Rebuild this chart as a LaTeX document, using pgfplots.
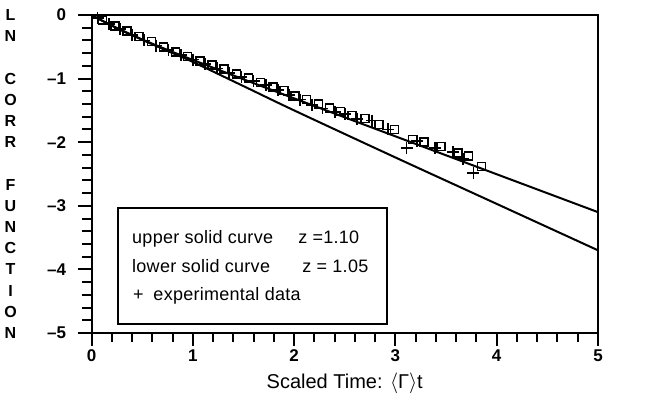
\documentclass[border=0pt]{standalone}
\usepackage{fontspec}
\setmainfont{Liberation Sans}
\newfontfamily\legfont[LetterSpace=1.5]{Liberation Sans}
\usepackage{pgfplots}
\pgfplotsset{compat=1.18}

\begin{document}
\begin{tikzpicture}
\begin{axis}[
  scale only axis, width=506.5pt, height=318pt,
  xmin=0, xmax=5, ymin=-5, ymax=0,
  axis line style={line width=2pt},
  tick align=outside, xtick pos=bottom, ytick pos=left,
  xtick={0,1,2,3,4,5}, ytick={-5,-4,-3,-2,-1,0},
  xticklabels={0,1,2,3,4,5},
  yticklabels={--5,--4,--3,--2,--1,0},
  minor x tick num=4, minor y tick num=4,
  major tick length=13pt, minor tick length=9pt,
  tick style={black, line width=2pt},
  ticklabel style={font=\fontsize{17}{19}\selectfont\bfseries},
  yticklabel style={xshift=-9pt},
  xlabel={Scaled Time: $\langle$Γ$\rangle$t},
  xlabel style={font=\fontsize{20}{22}\selectfont, at={(axis description cs:0.5,0)}, anchor=center, yshift=-50pt},
  clip=false,
]
  \coordinate (sw) at (rel axis cs:0,0);
  \coordinate (ne) at (rel axis cs:1,1);
  \coordinate (org) at (axis cs:0,0);

  % upper solid curve, z = 1.10
  \addplot[line width=2pt, smooth] coordinates {
    (0,0) (0.1,-0.086) (0.2,-0.166) (0.3,-0.242) (0.5,-0.384) (0.75,-0.549)
    (1,-0.706) (1.5,-1.011) (2,-1.311) (3,-1.908) (4,-2.504) (5,-3.100)};
  % lower solid curve, z = 1.05
  \addplot[line width=2pt, smooth] coordinates {
    (0,0) (0.1,-0.085) (0.2,-0.166) (0.3,-0.244) (0.5,-0.390) (0.75,-0.565)
    (1,-0.738) (1.5,-1.118) (2,-1.500) (3,-2.240) (4,-2.970) (5,-3.700)};

  % experimental data
  \addplot[only marks, mark=+, mark size=6pt, line width=1.8pt] coordinates {
    (0.06,-0.05) (0.17,-0.14) (0.28,-0.22) (0.40,-0.31) (0.52,-0.40) (0.64,-0.48)
    (0.76,-0.55) (0.88,-0.63) (1.00,-0.70) (1.12,-0.77) (1.24,-0.84) (1.36,-0.91)
    (1.48,-0.98) (1.60,-1.04) (1.72,-1.10) (1.84,-1.18) (1.95,-1.26) (2.06,-1.33)
    (2.18,-1.41) (2.28,-1.47) (2.40,-1.53) (2.50,-1.56) (2.62,-1.63) (2.77,-1.66)
    (2.93,-1.80) (3.11,-2.09) (3.21,-1.98) (3.39,-2.09) (3.57,-2.15) (3.67,-2.27)
    (3.77,-2.48)};
  \addplot[only marks, mark=square, mark size=4pt, line width=1.5pt] coordinates {
    (0.11,-0.08) (0.23,-0.17) (0.35,-0.25) (0.47,-0.34) (0.59,-0.42) (0.71,-0.50)
    (0.83,-0.58) (0.95,-0.65) (1.07,-0.72) (1.19,-0.79) (1.31,-0.85) (1.43,-0.93)
    (1.55,-0.99) (1.67,-1.06) (1.79,-1.13) (1.90,-1.19) (2.01,-1.27) (2.12,-1.33)
    (2.24,-1.40) (2.35,-1.46) (2.46,-1.52) (2.57,-1.58) (2.70,-1.63) (2.84,-1.72)
    (2.99,-1.80) (3.17,-1.96) (3.28,-2.00) (3.45,-2.07) (3.62,-2.17) (3.72,-2.22)
    (3.85,-2.38)};

  % legend box
  \draw[line width=2pt] (axis cs:0.26,-3.035) rectangle (axis cs:2.917,-4.86);
  \node[anchor=base west, font=\legfont\fontsize{18}{20}\selectfont, inner sep=0pt] at (axis cs:0.40,-3.60) {upper solid curve};
  \node[anchor=base west, font=\legfont\fontsize{18}{20}\selectfont, inner sep=0pt] at (axis cs:2.04,-3.60) {z =1.10};
  \node[anchor=base west, font=\legfont\fontsize{18}{20}\selectfont, inner sep=0pt] at (axis cs:0.40,-4.05) {lower solid curve};
  \node[anchor=base west, font=\legfont\fontsize{18}{20}\selectfont, inner sep=0pt] at (axis cs:2.08,-4.05) {z = 1.05};
  \node[anchor=base west, font=\legfont\fontsize{18}{20}\selectfont, inner sep=0pt] at (axis cs:0.41,-4.49) {+};
  \node[anchor=base west, font=\legfont\fontsize{18}{20}\selectfont, inner sep=0pt] at (axis cs:0.61,-4.49) {experimental data};
\end{axis}

% vertical y label, one letter per line
\foreach \c/\s in {L/0,N/1,C/3,O/4,R/5,R/6,F/8,U/9,N/10,C/11,T/12,I/13,O/14,N/15}
  \node[font=\fontsize{16}{18}\selectfont\bfseries] at ([xshift=-81pt,yshift={-\s*21.2pt}]org) {\c};

\pgfresetboundingbox
\path ([shift={(-91.5pt,-71pt)}]sw) rectangle ([shift={(71pt,15pt)}]ne);
\end{tikzpicture}
\end{document}
